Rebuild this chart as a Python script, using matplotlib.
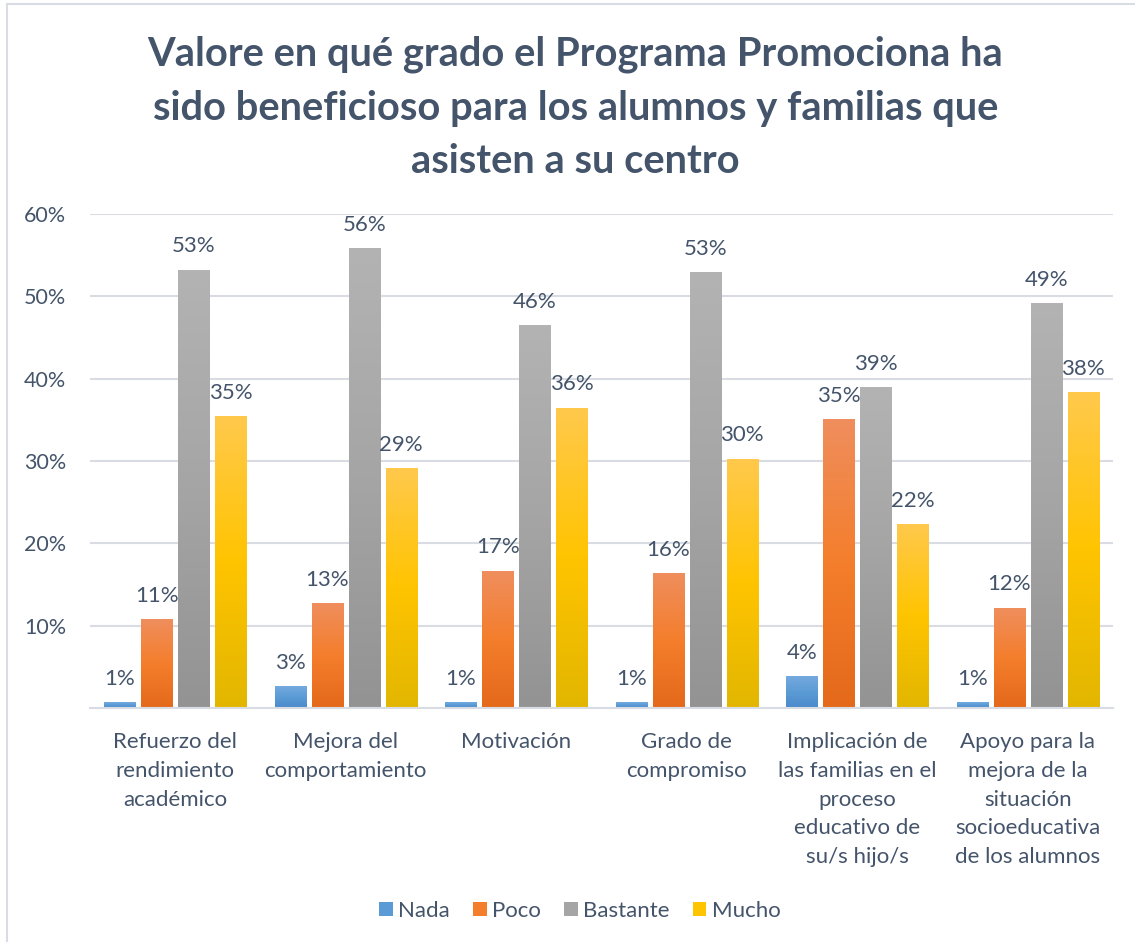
import numpy as np
import matplotlib
matplotlib.use("Agg")
import matplotlib.pyplot as plt
from matplotlib.colors import LinearSegmentedColormap
from matplotlib.patches import Patch
from matplotlib.ticker import FuncFormatter

plt.rcParams["font.family"] = ["Lato", "DejaVu Sans"]

# Data (fractions)
categories = ["Refuerzo del\nrendimiento\nacadémico",
              "Mejora del\ncomportamiento",
              "Motivación",
              "Grado de\ncompromiso",
              "Implicación de\nlas familias en el\nproceso\neducativo de\nsu/s hijo/s",
              "Apoyo para la\nmejora de la\nsituación\nsocioeducativa\nde los alumnos"]
series = ["Nada", "Poco", "Bastante", "Mucho"]
nada = [0.0065, 0.026, 0.0065, 0.0065, 0.038, 0.0065]
poco = [0.107, 0.127, 0.166, 0.163, 0.350, 0.121]
bastante = [0.532, 0.558, 0.464, 0.529, 0.389, 0.491]
mucho = [0.354, 0.291, 0.364, 0.302, 0.223, 0.383]
values = [nada, poco, bastante, mucho]

# gradient stops: bottom, middle, top
grads = [["#4A89CB", "#5B9BD5", "#74AADF"],
         ["#E4691B", "#F47E2C", "#EF8E5D"],
         ["#939393", "#A5A5A5", "#B3B3B3"],
         ["#E2B600", "#FFC400", "#FFC94C"]]

txt = "#44546A"
grid_c = "#D9DDE3"

fig = plt.figure(figsize=(11.35, 9.42), dpi=100)
ax = fig.add_axes([0.0793, 0.2484, 0.9013, 0.5244])

# light border around the chart area
fig.add_artist(plt.Line2D([7 / 1135, 7 / 1135], [0, 1 - 4 / 942], transform=fig.transFigure,
                          color=grid_c, lw=1.5))
fig.add_artist(plt.Line2D([7 / 1135, 1], [1 - 4 / 942, 1 - 4 / 942], transform=fig.transFigure,
                          color=grid_c, lw=1.5))

x = np.arange(len(categories))
w = 0.182
step = 0.217
grad = np.linspace(0, 1, 256).reshape(-1, 1)

for i, (name, vals) in enumerate(zip(series, values)):
    pos = x + (i - 1.5) * step
    bars = ax.bar(pos, vals, w, color="none", zorder=2)
    cm = LinearSegmentedColormap.from_list(name, grads[i])
    for b, v in zip(bars, vals):
        ax.imshow(grad, extent=[b.get_x(), b.get_x() + b.get_width(), 0, b.get_height()],
                  origin="lower", aspect="auto", cmap=cm, zorder=2)
        ax.annotate("{:.0f}%".format(v * 100), (b.get_x() + b.get_width() / 2, v),
                    xytext=(0, 10), textcoords="offset points", ha="center", va="bottom",
                    fontsize=16, color=txt)

ax.set_xlim(-0.5, len(categories) - 0.5)
ax.set_ylim(0, 0.6)
ax.set_yticks([0.1, 0.2, 0.3, 0.4, 0.5, 0.6])
ax.yaxis.set_major_formatter(FuncFormatter(lambda v, p: "{:.0f}%".format(v * 100)))
ax.grid(axis="y", color=grid_c, lw=1.5, zorder=0)
ax.set_axisbelow(True)
ax.set_xticks(x)
ax.set_xticklabels(categories, fontsize=16, color=txt, linespacing=1.56)
ax.tick_params(axis="x", length=0, pad=17)
ax.tick_params(axis="y", length=0, pad=17, labelsize=15.5, labelcolor=txt)
for s in ["top", "right", "left"]:
    ax.spines[s].set_visible(False)
ax.spines["bottom"].set_color(grid_c)
ax.spines["bottom"].set_linewidth(1.5)

fig.text(0.507, 1 - 108 / 942,
         "Valore en qué grado el Programa Promociona ha\nsido beneficioso para los alumnos y familias que\nasisten a su centro",
         ha="center", va="center", fontsize=28.7, fontweight="bold", color=txt, linespacing=1.55)

handles = [Patch(facecolor=g[1], edgecolor="none") for g in grads]
fig.legend(handles, series, loc="center", bbox_to_anchor=(0.511, 1 - 911 / 942), ncol=4,
           frameon=False, fontsize=16, labelcolor=txt, handlelength=0.6, handleheight=0.6,
           handletextpad=0.25, columnspacing=1.05)

fig.savefig("out.png", dpi=100)
